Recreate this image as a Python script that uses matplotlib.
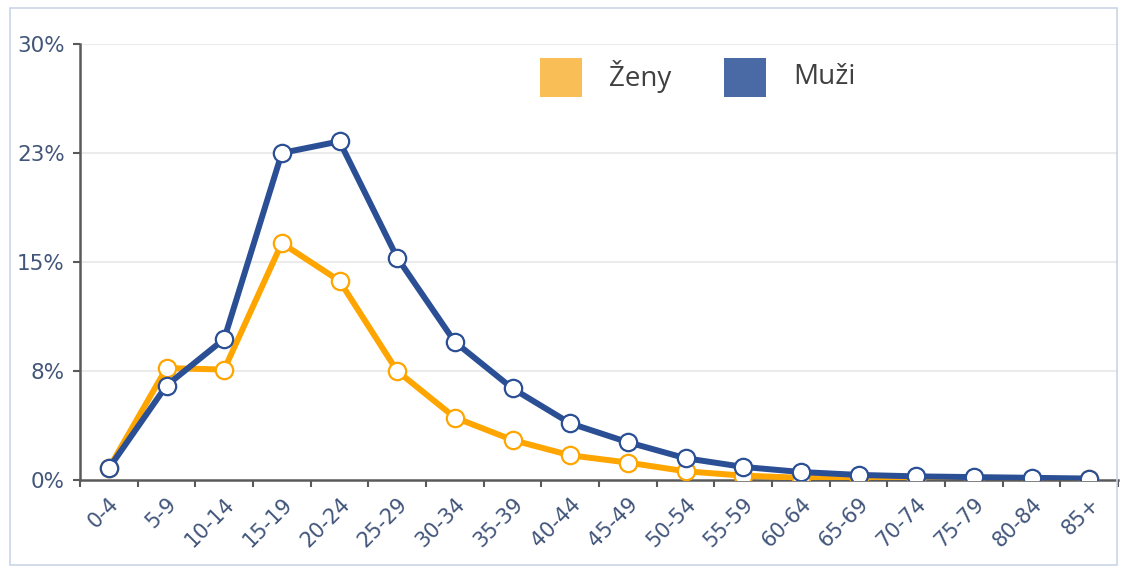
import matplotlib
matplotlib.use("Agg")
import matplotlib.pyplot as plt
from matplotlib.patches import Rectangle

categories = ["0-4", "5-9", "10-14", "15-19", "20-24", "25-29", "30-34", "35-39",
              "40-44", "45-49", "50-54", "55-59", "60-64", "65-69", "70-74",
              "75-79", "80-84", "85+"]
zeny = [0.8, 7.7, 7.6, 16.3, 13.7, 7.5, 4.3, 2.75, 1.7, 1.2, 0.6, 0.3, 0.15,
        0.1, 0.08, 0.06, 0.05, 0.05]
muzi = [0.8, 6.5, 9.7, 22.5, 23.3, 15.3, 9.5, 6.3, 3.9, 2.6, 1.5, 0.9, 0.55,
        0.35, 0.25, 0.2, 0.15, 0.1]
yticks = [0, 7.5, 15, 22.5, 30]
ytick_labels = ["0%", "8%", "15%", "23%", "30%"]
legend_labels = ["Ženy", "Muži"]

W, H = 1123, 567
fig = plt.figure(figsize=(W / 100, H / 100), dpi=100)
fig.patch.set_facecolor("white")

# outer frame
fig.add_artist(Rectangle((10 / W, 1 - 565 / H), 1107 / W, 557 / H,
                         transform=fig.transFigure, fill=False,
                         edgecolor="#C9D6E8", linewidth=1.2))

ax = fig.add_axes([80 / W, 1 - 480 / H, (1118 - 80) / W, (480 - 44) / H])
n = len(categories)
x = list(range(n))
ax.set_xlim(-0.5, n - 0.5)
ax.set_ylim(0, 30)

orange = "#FFA500"
blue = "#2B4F94"
ax.plot(x, zeny, color=orange, lw=4.3, marker="o", ms=12.5, mfc="white",
        mec=orange, mew=1.6, zorder=3, solid_joinstyle="round")
ax.plot(x, muzi, color=blue, lw=4.3, marker="o", ms=12.5, mfc="white",
        mec=blue, mew=1.6, zorder=4, solid_joinstyle="round")

ax.set_yticks(yticks)
ax.set_yticklabels(ytick_labels)
for y in yticks[1:]:
    ax.axhline(y, color="#EBEBEB", lw=1.5, zorder=0)

ax.set_xticks([i - 0.5 for i in range(n + 1)], minor=False)
ax.set_xticklabels([])
ax.set_xticks(x, minor=True)
ax.set_xticklabels(categories, minor=True, rotation=45, ha="right",
                   va="top", rotation_mode="anchor")
ax.tick_params(axis="x", which="minor", length=0, pad=10, labelsize=15,
               labelcolor="#42557A")
ax.tick_params(axis="x", which="major", length=5, width=1.5, color="#5A5A5A",
               direction="out")
ax.tick_params(axis="y", length=5, width=1.5, color="#5A5A5A", pad=6,
               labelsize=15.5, labelcolor="#42557A")

for s in ["top", "right"]:
    ax.spines[s].set_visible(False)
for s in ["left", "bottom"]:
    ax.spines[s].set_color("#5A5A5A")
    ax.spines[s].set_linewidth(1.8)

# legend
leg_colors = ["#F9BE55", "#4A6AA5"]
leg_x = [540, 724]
for lx, col, lab in zip(leg_x, leg_colors, legend_labels):
    fig.add_artist(Rectangle((lx / W, 1 - 97 / H), 42 / W, 39 / H,
                             transform=fig.transFigure, facecolor=col,
                             edgecolor="none"))
    fig.text((lx + 69) / W, 1 - 77 / H, lab, fontsize=20, color="#404040",
             va="center", ha="left", family="Open Sans")

fig.savefig("out.png", dpi=100)
